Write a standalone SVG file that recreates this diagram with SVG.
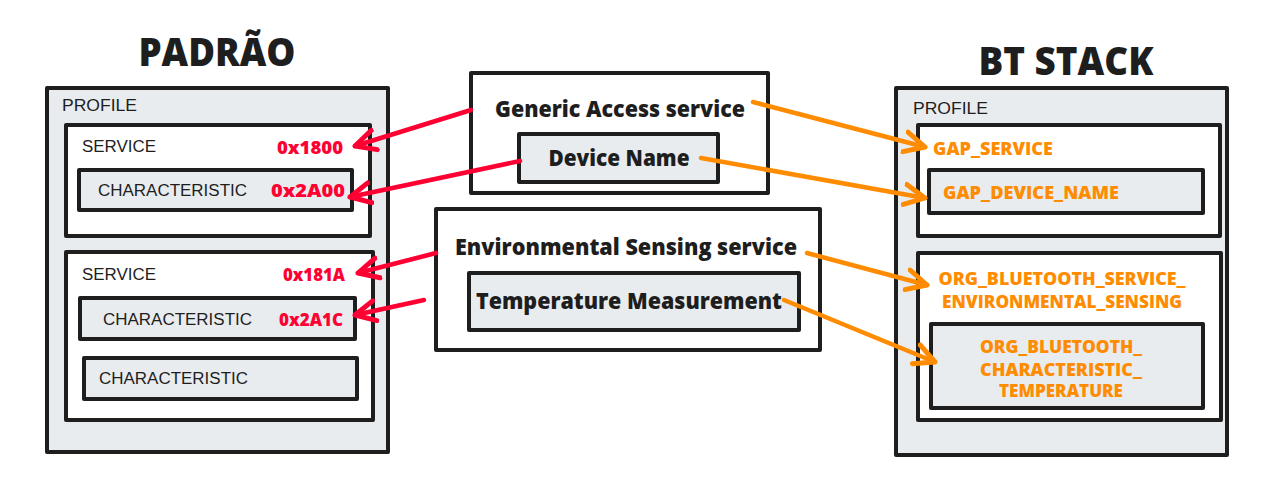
<svg xmlns="http://www.w3.org/2000/svg" width="1288" height="503" viewBox="0 0 1288 503">
<defs>
<style>
.box{stroke:#1e1e1e;stroke-width:4;stroke-linejoin:round}
.g{fill:#e9ecef}
.w{fill:#ffffff}
.hand{font-family:"Liberation Sans","DejaVu Sans",sans-serif;font-size:16px;fill:#1e1e1e}
.bold{font-family:"Open Sans","Liberation Sans",sans-serif;font-weight:800;fill:#1e1e1e}
.title{font-family:"Open Sans","Liberation Sans",sans-serif;font-weight:800;font-size:38px;fill:#1e1e1e}
.red{font-family:"Open Sans","Liberation Sans",sans-serif;font-weight:800;font-size:17px;fill:#ff0033}
.or{font-family:"Open Sans","Liberation Sans",sans-serif;font-weight:800;font-size:17px;fill:#ff8c00}
.ar{fill:none;stroke-width:4.5;stroke-linecap:round;stroke-linejoin:round}
.ared{stroke:#ff0033}
.aor{stroke:#ff8c00}
</style>
<marker id="hr" viewBox="0 0 12 12" refX="10" refY="6" markerWidth="6" markerHeight="6" orient="auto" markerUnits="strokeWidth">
<path d="M1,1.5 L10,6 L1,10.5" fill="none" stroke="#ff0033" stroke-width="2.2" stroke-linecap="round" stroke-linejoin="round"/>
</marker>
<marker id="ho" viewBox="0 0 12 12" refX="10" refY="6" markerWidth="6" markerHeight="6" orient="auto" markerUnits="strokeWidth">
<path d="M1,1.5 L10,6 L1,10.5" fill="none" stroke="#ff8c00" stroke-width="2.2" stroke-linecap="round" stroke-linejoin="round"/>
</marker>
</defs>
<rect width="1288" height="503" fill="#ffffff"/>

<g id="title-padrao"><text class="title" x="217" y="66" text-anchor="middle" textLength="157" lengthAdjust="spacingAndGlyphs">PADRÃO</text></g>
<g id="title-btstack"><text class="title" x="1066" y="75" text-anchor="middle" textLength="175" lengthAdjust="spacingAndGlyphs">BT STACK</text></g>

<g id="left-profile">
<rect class="box g" x="47" y="88" width="341" height="364"/>
<text class="hand" x="62" y="111" textLength="75" lengthAdjust="spacingAndGlyphs">PROFILE</text>
</g>
<g id="left-service1">
<rect class="box w" x="66" y="125" width="304" height="111"/>
<text class="hand" x="82" y="152" textLength="74" lengthAdjust="spacingAndGlyphs">SERVICE</text>
<text class="red" x="343" y="154" text-anchor="end" textLength="66" lengthAdjust="spacingAndGlyphs">0x1800</text>
</g>
<g id="left-char1">
<rect class="box g" x="79" y="170" width="273" height="40"/>
<text class="hand" x="98" y="196" textLength="149" lengthAdjust="spacingAndGlyphs">CHARACTERISTIC</text>
<text class="red" x="345" y="197" text-anchor="end" textLength="74" lengthAdjust="spacingAndGlyphs">0x2A00</text>
</g>
<g id="left-service2">
<rect class="box w" x="66" y="252" width="307" height="168"/>
<text class="hand" x="82" y="280" textLength="74" lengthAdjust="spacingAndGlyphs">SERVICE</text>
<text class="red" x="345" y="281" text-anchor="end" textLength="62" lengthAdjust="spacingAndGlyphs">0x181A</text>
</g>
<g id="left-char2">
<rect class="box g" x="80" y="298" width="275" height="41"/>
<text class="hand" x="103" y="325" textLength="149" lengthAdjust="spacingAndGlyphs">CHARACTERISTIC</text>
<text class="red" x="343" y="326" text-anchor="end" textLength="64" lengthAdjust="spacingAndGlyphs">0x2A1C</text>
</g>
<g id="left-char3">
<rect class="box g" x="84" y="358" width="273" height="41"/>
<text class="hand" x="99" y="384" textLength="149" lengthAdjust="spacingAndGlyphs">CHARACTERISTIC</text>
</g>

<g id="gap-service">
<rect class="box w" x="471" y="73" width="297" height="120"/>
<text class="bold" x="620" y="117" font-size="22" text-anchor="middle" textLength="250" lengthAdjust="spacingAndGlyphs">Generic Access service</text>
</g>
<g id="device-name">
<rect class="box g" x="519" y="134" width="199" height="48"/>
<text class="bold" x="619" y="166" font-size="22" text-anchor="middle" textLength="141" lengthAdjust="spacingAndGlyphs">Device Name</text>
</g>
<g id="env-service">
<rect class="box w" x="436" y="209" width="384" height="141"/>
<text class="bold" x="626" y="255" font-size="22" text-anchor="middle" textLength="342" lengthAdjust="spacingAndGlyphs">Environmental Sensing service</text>
</g>
<g id="temp-measurement">
<rect class="box g" x="469" y="273" width="330" height="57"/>
<text class="bold" x="629" y="309" font-size="22" text-anchor="middle" textLength="306" lengthAdjust="spacingAndGlyphs">Temperature Measurement</text>
</g>

<g id="right-profile">
<rect class="box g" x="896" y="88" width="331" height="367"/>
<text class="hand" x="913" y="114" textLength="75" lengthAdjust="spacingAndGlyphs">PROFILE</text>
</g>
<g id="right-service1">
<rect class="box w" x="918" y="125" width="302" height="111"/>
<text class="or" x="933" y="155" textLength="120" lengthAdjust="spacingAndGlyphs">GAP_SERVICE</text>
</g>
<g id="right-char1">
<rect class="box g" x="929" y="170" width="274" height="43"/>
<text class="or" x="943" y="199" textLength="176" lengthAdjust="spacingAndGlyphs">GAP_DEVICE_NAME</text>
</g>
<g id="right-service2">
<rect class="box w" x="918" y="253" width="303" height="167"/>
<text class="or" x="1062" y="285" text-anchor="middle" textLength="247" lengthAdjust="spacingAndGlyphs">ORG_BLUETOOTH_SERVICE_</text>
<text class="or" x="1062" y="308" text-anchor="middle" textLength="240" lengthAdjust="spacingAndGlyphs">ENVIRONMENTAL_SENSING</text>
</g>
<g id="right-char2">
<rect class="box g" x="931" y="324" width="272" height="84"/>
<text class="or" x="1061" y="353" text-anchor="middle" textLength="162" lengthAdjust="spacingAndGlyphs">ORG_BLUETOOTH_</text>
<text class="or" x="1061" y="376" text-anchor="middle" textLength="162" lengthAdjust="spacingAndGlyphs">CHARACTERISTIC_</text>
<text class="or" x="1061" y="397" text-anchor="middle" textLength="124" lengthAdjust="spacingAndGlyphs">TEMPERATURE</text>
</g>

<g id="connectors">
<path class="ar ared" d="M471,110 L355,146" marker-end="url(#hr)"/>
<path class="ar ared" d="M520,161 L350,197" marker-end="url(#hr)"/>
<path class="ar ared" d="M436,253 L358,273" marker-end="url(#hr)"/>
<path class="ar ared" d="M424,300 L355,315" marker-end="url(#hr)"/>
<path class="ar aor" d="M753,102 L925,147" marker-end="url(#ho)"/>
<path class="ar aor" d="M701,158 L925,198" marker-end="url(#ho)"/>
<path class="ar aor" d="M807,253 L927,285" marker-end="url(#ho)"/>
<path class="ar aor" d="M784,300 L935,362" marker-end="url(#ho)"/>
</g>
</svg>
